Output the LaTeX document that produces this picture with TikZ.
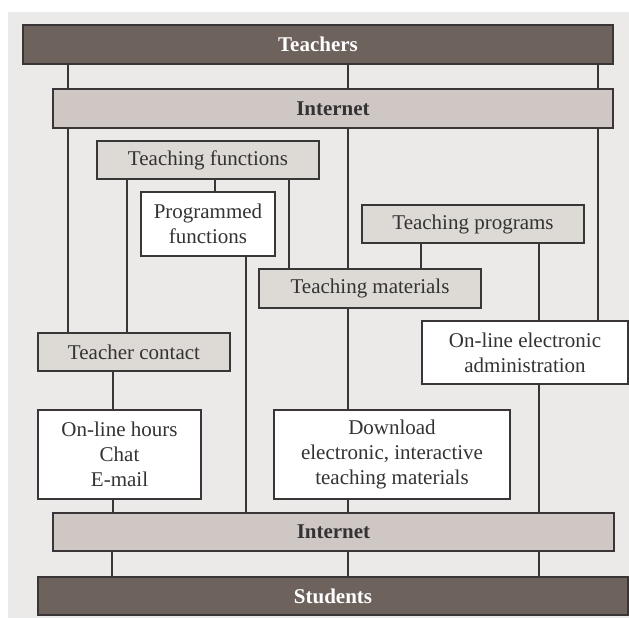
\documentclass[tikz,border=0pt]{standalone}
\usepackage{fontspec}
\setmainfont{Liberation Serif}
\definecolor{bgc}{HTML}{EBEAE8}
\definecolor{darkfill}{HTML}{6E625D}
\definecolor{netfill}{HTML}{CEC7C4}
\definecolor{boxfill}{HTML}{DDD9D5}
\definecolor{edge}{HTML}{3A3638}
\definecolor{txt}{HTML}{333333}
\tikzset{
  basebox/.style={draw=edge, line width=1.3pt, rectangle, inner sep=0pt, align=center,
    font=\fontsize{21}{25}\selectfont, text=txt},
  darkbox/.style={basebox, fill=darkfill, text=white, font=\fontsize{21}{25}\selectfont\bfseries},
  netbox/.style={basebox, fill=netfill, font=\fontsize{21}{25}\selectfont\bfseries},
  graybox/.style={basebox, fill=boxfill},
  whitebox/.style={basebox, fill=white},
  link/.style={draw=edge, line width=1.2pt}
}
\newcommand\vlink[3]{\draw[link] (#1,0 |- #2.south) -- (#1,0 |- #3.north);}
\begin{document}
\begin{tikzpicture}[x=1pt,y=-1pt]
\useasboundingbox (0,0) rectangle (629,619);
\fill[bgc] (8,12) rectangle (629,618);

\node[darkbox, minimum width=590pt, minimum height=39pt] (teachers) at (318,44.5) {Teachers};
\node[netbox, minimum width=560pt, minimum height=39pt] (inet1) at (333,108.5) {Internet};
\node[graybox, minimum width=222pt, minimum height=38pt] (tf) at (208,160) {Teaching functions};
\node[whitebox, minimum width=134pt, minimum height=64pt] (prog) at (208,224) {Programmed\\functions};
\node[graybox, minimum width=222pt, minimum height=38pt] (tp) at (473,224) {Teaching programs};
\node[graybox, minimum width=222pt, minimum height=39pt] (tm) at (370,288.5) {Teaching materials};
\node[graybox, minimum width=192pt, minimum height=38pt] (tc) at (134,352) {Teacher contact};
\node[whitebox, minimum width=206pt, minimum height=63pt] (admin) at (525,352.5) {On-line electronic\\administration};
\node[whitebox, minimum width=163pt, minimum height=89pt] (hours) at (119.5,454.5) {On-line hours\\Chat\\E-mail};
\node[whitebox, minimum width=236pt, minimum height=89pt] (down) at (392,454.5) {Download\\electronic, interactive\\teaching materials};
\node[netbox, minimum width=561pt, minimum height=38pt] (inet2) at (333.5,532) {Internet};
\node[darkbox, minimum width=590pt, minimum height=38pt] (students) at (333,596) {Students};

\vlink{68}{teachers}{inet1}
\vlink{348}{teachers}{inet1}
\vlink{598}{teachers}{inet1}
\vlink{68}{inet1}{tc}
\vlink{348}{inet1}{tm}
\vlink{598}{inet1}{admin}
\vlink{127}{tf}{tc}
\vlink{215}{tf}{prog}
\vlink{289}{tf}{tm}
\vlink{246}{prog}{inet2}
\vlink{421}{tp}{tm}
\vlink{539}{tp}{admin}
\vlink{348}{tm}{down}
\vlink{113}{tc}{hours}
\vlink{113}{hours}{inet2}
\vlink{348}{down}{inet2}
\vlink{539}{admin}{inet2}
\vlink{112}{inet2}{students}
\vlink{348}{inet2}{students}
\vlink{539}{inet2}{students}
\end{tikzpicture}
\end{document}
